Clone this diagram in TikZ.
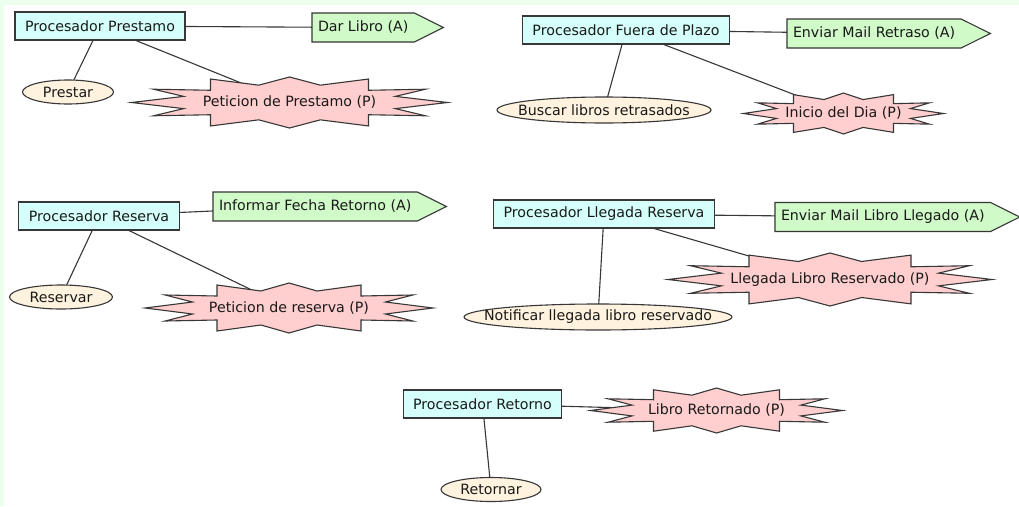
\documentclass[tikz,border=0pt]{standalone}
\usepackage{fontspec}
\setmainfont{DejaVu Sans}
\usetikzlibrary{shapes.geometric,shapes.symbols}

\definecolor{bgstrip}{RGB}{236,255,236}
\definecolor{linecol}{RGB}{55,55,55}
\definecolor{proccol}{RGB}{212,255,250}
\definecolor{actcol}{RGB}{208,250,200}
\definecolor{usecol}{RGB}{255,242,222}
\definecolor{evtcol}{RGB}{255,206,206}
\definecolor{txtcol}{RGB}{25,25,25}

\pgfdeclarelayer{canvas}
\pgfdeclarelayer{edges}
\pgfdeclarelayer{shapes}
\pgfsetlayers{canvas,edges,shapes,main}

\tikzset{
  proc/.style={draw=linecol, fill=proccol, line width=1.1pt, rectangle,
    minimum height=28pt, inner xsep=10pt, inner ysep=0pt, outer sep=0pt},
  act/.style={signal, signal to=east, signal from=nowhere, signal pointer angle=53,
    draw=linecol, fill=actcol, line width=1.1pt, minimum height=29pt,
    inner xsep=6pt, inner ysep=0pt, outer sep=0pt, anchor=west},
  usecase/.style={ellipse, draw=linecol, fill=usecol, line width=1.1pt,
    inner sep=0pt, outer sep=0pt},
  evtlabel/.style={inner sep=0pt},
  evtshape/.style={draw=linecol, fill=evtcol, line width=1.1pt, line join=miter},
  conn/.style={draw=linecol, line width=1.1pt}
}

% Event outline: zigzag top and bottom, three spikes on each side.
% #1 node, #2 half width of the inner body, #3 half height
\newcommand\eventseal[3]{%
  \begin{pgfonlayer}{shapes}
    \draw[evtshape, shift={(#1.center)}, x=#2pt, y=-#3pt]
      (-1,-0.92) -- (-0.39,-0.68) -- (0,-1) -- (0.39,-0.68) -- (1,-0.92)
      -- (1,-0.48) -- (1.72,-0.52) -- (1.34,-0.24) -- (2,0) -- (1.34,0.24)
      -- (1.72,0.52) -- (1,0.48) -- (1,0.92) -- (0.39,0.68) -- (0,1)
      -- (-0.39,0.68) -- (-1,0.92) -- (-1,0.48) -- (-1.72,0.52)
      -- (-1.34,0.24) -- (-2,0) -- (-1.34,-0.24) -- (-1.72,-0.52)
      -- (-1,-0.48) -- cycle;
  \end{pgfonlayer}}

% Use-case label that does not widen its ellipse
\newcommand\uclabel[1]{\makebox[0pt]{#1}}

\begin{document}
\begin{tikzpicture}[x=1pt, y=-1pt, font=\fontsize{14.2}{17}\selectfont, text=txtcol]
  \useasboundingbox (0,0) rectangle (1019,506);
  \begin{pgfonlayer}{canvas}
    \fill[bgstrip] (0,0) rectangle (1019,506);
    \fill[white] (4,5) rectangle (1019,506);
  \end{pgfonlayer}

  % Prestamo
  \node[proc] (pp) at (100,26) {Procesador Prestamo};
  \node[act] (dar) at (312,27.5) {Dar Libro (A)};
  \node[usecase, minimum width=91pt, minimum height=24pt] (prestar) at (68,92) {\uclabel{Prestar}};
  \node[evtlabel] (pet) at (289.5,102.5) {Peticion de Prestamo (P)};
  \eventseal{pet}{79}{25.5}

  % Fuera de plazo
  \node[proc] (pf) at (626,30) {Procesador Fuera de Plazo};
  \node[act] (env) at (787,33.5) {Enviar Mail Retraso (A)};
  \node[usecase, minimum width=214pt, minimum height=26pt] (buscar) at (604,110) {\uclabel{Buscar libros retrasados}};
  \node[evtlabel] (ini) at (843.5,113.5) {Inicio del Dia (P)};
  \eventseal{ini}{50}{20.5}

  % Reserva
  \node[proc] (pr) at (99,216) {Procesador Reserva};
  \node[act] (inf) at (213,206.5) {Informar Fecha Retorno (A)};
  \node[usecase, minimum width=103pt, minimum height=24pt] (reservar) at (61,297) {\uclabel{Reservar}};
  \node[evtlabel] (petr) at (289,308) {Peticion de reserva (P)};
  \eventseal{petr}{72}{25}

  % Llegada reserva
  \node[proc] (plr) at (604,214) {Procesador Llegada Reserva};
  \node[act] (envl) at (775,217) {Enviar Mail Libro Llegado (A)};
  \node[usecase, minimum width=268pt, minimum height=26pt] (notif) at (598,317) {\uclabel{Notificar llegada libro reservado}};
  \node[evtlabel] (lleg) at (830,279.5) {Llegada Libro Reservado (P)};
  \eventseal{lleg}{81}{26.5}

  % Retorno
  \node[proc] (pret) at (482.5,404) {Procesador Retorno};
  \node[evtlabel] (ret) at (716.5,410.5) {Libro Retornado (P)};
  \eventseal{ret}{63}{22.5}
  \node[usecase, minimum width=100pt, minimum height=24pt] (retornar) at (491,489.5) {\uclabel{Retornar}};

  % Connectors
  \begin{pgfonlayer}{edges}
    \draw[conn] (pp) -- (dar);
    \draw[conn] (pp) -- (prestar);
    \draw[conn] (pp) -- (pet.center);
    \draw[conn] (pf) -- (env);
    \draw[conn] (pf) -- (buscar);
    \draw[conn] (pf) -- (ini.center);
    \draw[conn] (pr) -- (inf);
    \draw[conn] (pr) -- (reservar);
    \draw[conn] (pr) -- (petr.center);
    \draw[conn] (plr) -- (envl);
    \draw[conn] (plr) -- (notif);
    \draw[conn] (plr) -- (lleg.center);
    \draw[conn] (pret) -- (ret.center);
    \draw[conn] (pret) -- (retornar);
  \end{pgfonlayer}
\end{tikzpicture}
\end{document}
